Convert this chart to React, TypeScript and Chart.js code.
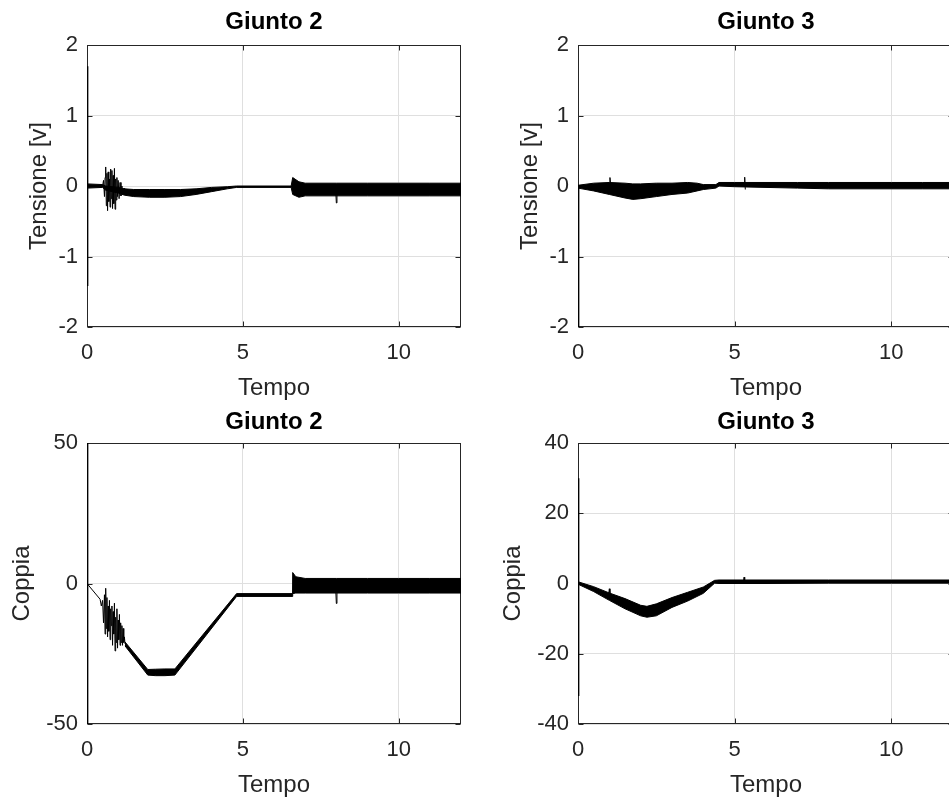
import React, { useEffect, useRef } from 'react';
import { Chart, registerables } from 'chart.js';

Chart.register(...registerables);

// ---------------- tick labels ----------------
const timeTicks = [0, 5, 10];
const tensioneTicks = [-2, -1, 0, 1, 2];
const coppia2Ticks = [-50, 0, 50];
const coppia3Ticks = [-40, -20, 0, 20, 40];

// ---------------- Giunto 2 — Tensione [v] ----------------
const g2vTransT = [0.02, 0.02];
const g2vTransV = [1.7, -1.42];
const g2vBandT = [0, 0.5, 0.6, 1.0, 1.2, 1.5, 2.0, 2.5, 3.0, 3.5, 4.0, 4.5, 4.8, 6.55, 6.6, 6.8, 7.0, 8.0, 9.0, 10.0, 11.0, 12.0];
const g2vBandUp = [0.03, 0.02, 0.0, -0.02, -0.04, -0.05, -0.05, -0.05, -0.05, -0.04, -0.02, -0.01, 0.0, 0.0, 0.12, 0.06, 0.04, 0.04, 0.04, 0.04, 0.04, 0.04];
const g2vBandLo = [-0.03, -0.02, -0.06, -0.1, -0.13, -0.15, -0.16, -0.16, -0.15, -0.12, -0.08, -0.04, -0.02, -0.02, -0.12, -0.16, -0.14, -0.14, -0.14, -0.14, -0.14, -0.14];
const g2vOscT = [0.5, 0.53, 0.56, 0.58, 0.6, 0.62, 0.64, 0.66, 0.68, 0.7, 0.72, 0.74, 0.76, 0.78, 0.8, 0.82, 0.84, 0.86, 0.88, 0.9, 0.92, 0.94, 0.96, 0.98, 1.0, 1.03, 1.06, 1.09, 1.12, 1.15, 1.2, 1.25];
const g2vOscV = [0.0, 0.08, -0.15, 0.12, 0.27, -0.28, 0.18, -0.35, 0.2, -0.22, 0.1, -0.3, 0.24, -0.18, 0.22, -0.32, 0.15, -0.25, 0.25, -0.33, 0.1, -0.2, 0.12, -0.15, 0.08, -0.18, 0.05, -0.14, 0.0, -0.12, -0.03, -0.08];
const g2vSpikeT = [7.98, 8.0, 8.02];
const g2vSpikeV = [-0.06, -0.24, -0.06];

// ---------------- Giunto 3 — Tensione [v] ----------------
const g3vTransT = [0.02, 0.02];
const g3vTransV = [0, -2.3];
const g3vBandT = [0, 0.5, 1.0, 1.5, 1.75, 2.0, 2.5, 3.0, 3.5, 3.8, 4.0, 4.4, 4.5, 5.0, 6.0, 7.0, 8.0, 9.0, 10.0, 11.0, 12.0];
const g3vBandUp = [0.01, 0.04, 0.05, 0.04, 0.03, 0.03, 0.04, 0.04, 0.05, 0.04, 0.02, 0.02, 0.05, 0.05, 0.05, 0.05, 0.05, 0.05, 0.05, 0.05, 0.05];
const g3vBandLo = [-0.03, -0.07, -0.12, -0.17, -0.19, -0.18, -0.15, -0.12, -0.1, -0.07, -0.05, -0.03, 0.0, -0.01, -0.02, -0.03, -0.04, -0.04, -0.04, -0.04, -0.04];
const g3vSpike1T = [1.0, 1.02, 1.04];
const g3vSpike1V = [0.02, 0.12, 0.02];
const g3vSpike2T = [5.3, 5.32, 5.34];
const g3vSpike2V = [0.02, 0.125, -0.05];

// ---------------- Giunto 2 — Coppia ----------------
const g2cTransT = [0.02, 0.02];
const g2cTransV = [60, -60];
const g2cStartT = [0, 0.42];
const g2cStartV = [0, -5.6];
const g2cOscT = [0.42, 0.46, 0.5, 0.53, 0.56, 0.58, 0.6, 0.62, 0.64, 0.66, 0.68, 0.7, 0.72, 0.74, 0.76, 0.78, 0.8, 0.82, 0.84, 0.86, 0.88, 0.9, 0.92, 0.94, 0.96, 0.98, 1.0, 1.02, 1.04, 1.06, 1.08, 1.1, 1.12, 1.14, 1.16, 1.18, 1.2, 1.22];
const g2cOscV = [-5.6, -8, -6, -14, -4, -18, -1.7, -16, -5, -19, -8, -17, -6, -20, -9, -15, -8, -22, -10, -18, -7, -24, -12, -21, -9, -23, -13, -20, -11, -22, -14, -21, -15, -22, -16, -21, -19, -21.5];
const g2cBandT = [1.22, 1.95, 2.2, 2.5, 2.82, 4.8, 6.58, 6.6, 6.7, 7.0, 8.0, 9.0, 10.0, 11.0, 12.0];
const g2cBandUp = [-20.8, -30.6, -30.5, -30.4, -30.4, -3.6, -3.6, 3.9, 2.4, 1.8, 1.8, 1.8, 1.8, 1.8, 1.8];
const g2cBandLo = [-22.2, -32.6, -32.8, -32.8, -32.6, -4.6, -4.6, -3.6, -3.4, -3.4, -3.4, -3.4, -3.4, -3.4, -3.4];
const g2cSpikeT = [7.98, 8.0, 8.02];
const g2cSpikeV = [-2, -7.1, -2];

// ---------------- Giunto 3 — Coppia ----------------
const g3cTransT = [0.02, 0.02];
const g3cTransV = [30, -32];
const g3cBandT = [0, 0.5, 1.0, 1.5, 2.0, 2.2, 2.5, 3.0, 3.5, 4.0, 4.36, 4.5, 6.0, 8.0, 10.0, 12.0];
const g3cBandUp = [0.5, -0.9, -2.7, -4.3, -6.2, -6.5, -5.8, -4.0, -2.5, -1.0, 0.9, 1.0, 1.0, 1.0, 1.0, 1.0];
const g3cBandLo = [-0.2, -2.3, -4.8, -7.2, -9.2, -9.6, -9.2, -6.8, -5.0, -2.8, 0.1, 0.0, 0.0, 0.1, 0.1, 0.1];
const g3cSpike1T = [0.98, 1.0, 1.02];
const g3cSpike1V = [-3.0, -1.5, -3.0];
const g3cSpike2T = [5.28, 5.3, 5.32];
const g3cSpike2V = [0.5, 1.8, 0.5];

// ---------------- helpers ----------------
const pts = (t: number[], v: number[]) => t.map((x, i) => ({ x, y: v[i] }));

const lineDs = (t: number[], v: number[], w = 1) => ({
  data: pts(t, v),
  borderColor: '#000000',
  borderWidth: w,
  pointRadius: 0,
  tension: 0,
  fill: false as any,
});

const bandDs = (t: number[], up: number[], lo: number[]) => [
  lineDs(t, up),
  { ...lineDs(t, lo), fill: '-1' as any, backgroundColor: '#000000' },
];

const FONT = '"Liberation Sans", Arial, Helvetica, sans-serif';
const TEXT = '#262626';

const framePlugin = {
  id: 'matlabFrame',
  beforeDatasetsDraw(chart: any) {
    const { ctx, chartArea: a } = chart;
    const xs = chart.scales.x;
    const ys = chart.scales.y;
    const L = Math.round(a.left) + 0.5;
    const R = Math.round(a.right) - 0.5;
    const T = Math.round(a.top) + 0.5;
    const B = Math.round(a.bottom) - 0.5;
    ctx.save();
    ctx.strokeStyle = TEXT;
    ctx.lineWidth = 1;
    ctx.strokeRect(L, T, R - L, B - T);
    ctx.beginPath();
    for (const tk of xs.ticks) {
      const px = Math.round(xs.getPixelForValue(tk.value)) + 0.5;
      ctx.moveTo(px, B); ctx.lineTo(px, B - 5);
      ctx.moveTo(px, T); ctx.lineTo(px, T + 5);
    }
    for (const tk of ys.ticks) {
      const py = Math.round(ys.getPixelForValue(tk.value)) + 0.5;
      ctx.moveTo(L, py); ctx.lineTo(L + 5, py);
      ctx.moveTo(R, py); ctx.lineTo(R - 5, py);
    }
    ctx.stroke();
    ctx.restore();
  },
  afterDraw(chart: any, _args: any, opts: any) {
    const { ctx, chartArea: a } = chart;
    ctx.save();
    ctx.fillStyle = '#000000';
    ctx.font = `bold ${opts.size}px ${FONT}`;
    ctx.textAlign = 'center';
    ctx.textBaseline = 'middle';
    ctx.fillText(opts.text, (a.left + a.right) / 2, a.top - opts.gap);
    ctx.restore();
  },
};

type Panel = {
  key: string;
  left: number; top: number; width: number; height: number;
  area: { left: number; top: number; right: number; bottom: number };
  yMin: number; yMax: number; yTicks: number[];
  yLabel: string; yTitlePad: number; xTitlePad: number;
  title: string; titleGap: number;
  datasets: any[];
};

const panels: Panel[] = [
  {
    key: 'tl', left: 0, top: 0, width: 475, height: 403,
    area: { left: 87, top: 45, right: 461, bottom: 327 },
    yMin: -2, yMax: 2, yTicks: tensioneTicks, yLabel: 'Tensione [v]', yTitlePad: 24.6, xTitlePad: 0.6,
    title: 'Giunto 2', titleGap: 23,
    datasets: [
      lineDs(g2vTransT, g2vTransV, 1.5),
      ...bandDs(g2vBandT, g2vBandUp, g2vBandLo),
      lineDs(g2vOscT, g2vOscV),
      lineDs(g2vSpikeT, g2vSpikeV),
    ],
  },
  {
    key: 'tr', left: 475, top: 0, width: 490, height: 403,
    area: { left: 103, top: 45, right: 479, bottom: 327 },
    yMin: -2, yMax: 2, yTicks: tensioneTicks, yLabel: 'Tensione [v]', yTitlePad: 40.6, xTitlePad: 0.6,
    title: 'Giunto 3', titleGap: 23,
    datasets: [
      lineDs(g3vTransT, g3vTransV, 1.5),
      ...bandDs(g3vBandT, g3vBandUp, g3vBandLo),
      lineDs(g3vSpike1T, g3vSpike1V),
      lineDs(g3vSpike2T, g3vSpike2V),
    ],
  },
  {
    key: 'bl', left: 0, top: 403, width: 475, height: 403,
    area: { left: 87, top: 40, right: 461, bottom: 321 },
    yMin: -50, yMax: 50, yTicks: coppia2Ticks, yLabel: 'Coppia', yTitlePad: 8.1, xTitlePad: 6.6,
    title: 'Giunto 2', titleGap: 21,
    datasets: [
      lineDs(g2cTransT, g2cTransV, 1.5),
      lineDs(g2cStartT, g2cStartV),
      lineDs(g2cOscT, g2cOscV),
      ...bandDs(g2cBandT, g2cBandUp, g2cBandLo),
      lineDs(g2cSpikeT, g2cSpikeV),
    ],
  },
  {
    key: 'br', left: 475, top: 403, width: 490, height: 403,
    area: { left: 103, top: 40, right: 479, bottom: 321 },
    yMin: -40, yMax: 40, yTicks: coppia3Ticks, yLabel: 'Coppia', yTitlePad: 24.1, xTitlePad: 6.6,
    title: 'Giunto 3', titleGap: 21,
    datasets: [
      lineDs(g3cTransT, g3cTransV, 1.5),
      ...bandDs(g3cBandT, g3cBandUp, g3cBandLo),
      lineDs(g3cSpike1T, g3cSpike1V),
      lineDs(g3cSpike2T, g3cSpike2V),
    ],
  },
];

function SubPlot({ p }: { p: Panel }) {
  const ref = useRef<HTMLCanvasElement | null>(null);
  useEffect(() => {
    if (!ref.current) return;
    const chart = new Chart(ref.current, {
      type: 'line',
      data: { datasets: p.datasets },
      plugins: [framePlugin as any],
      options: {
        animation: false,
        responsive: false,
        devicePixelRatio: 1,
        layout: { padding: { left: 0, top: p.area.top, right: p.width - p.area.right, bottom: 0 } },
        plugins: {
          legend: { display: false },
          tooltip: { enabled: false },
          matlabFrame: { text: p.title, gap: p.titleGap, size: 24 },
        } as any,
        scales: {
          x: {
            type: 'linear',
            min: 0,
            max: 12,
            afterBuildTicks: (s: any) => { s.ticks = timeTicks.map((v) => ({ value: v })); },
            afterFit: (s: any) => { s.height = p.height - p.area.bottom; },
            ticks: {
              callback: (v: any) => String(v),
              color: TEXT,
              font: { family: FONT, size: 22 },
              padding: 12.8,
              maxRotation: 0,
              autoSkip: false,
            },
            grid: { color: '#dfdfdf', lineWidth: 1, drawTicks: false },
            border: { display: false },
            title: {
              display: true,
              text: 'Tempo',
              color: TEXT,
              font: { family: FONT, size: 24 },
              padding: { top: 0, bottom: p.xTitlePad },
            },
          },
          y: {
            type: 'linear',
            min: p.yMin,
            max: p.yMax,
            afterBuildTicks: (s: any) => { s.ticks = p.yTicks.map((v) => ({ value: v })); },
            afterFit: (s: any) => { s.width = p.area.left; },
            ticks: {
              callback: (v: any) => String(v),
              color: TEXT,
              font: { family: FONT, size: 22 },
              padding: 9,
              autoSkip: false,
            },
            grid: { color: '#dfdfdf', lineWidth: 1, drawTicks: false },
            border: { display: false },
            title: {
              display: true,
              text: p.yLabel,
              color: TEXT,
              font: { family: FONT, size: 24 },
              padding: { top: p.yTitlePad, bottom: 0 },
            },
          },
        },
      } as any,
    });
    return () => chart.destroy();
  }, [p]);
  return (
    <canvas
      ref={ref}
      width={p.width}
      height={p.height}
      style={{ position: 'absolute', left: p.left, top: p.top, width: p.width, height: p.height }}
    />
  );
}

export default function App() {
  return (
    <div
      style={{
        position: 'fixed', left: 0, top: 0, width: 949, height: 806,
        overflow: 'hidden', background: '#ffffff',
      }}
    >
      {panels.map((p) => <SubPlot key={p.key} p={p} />)}
    </div>
  );
}
